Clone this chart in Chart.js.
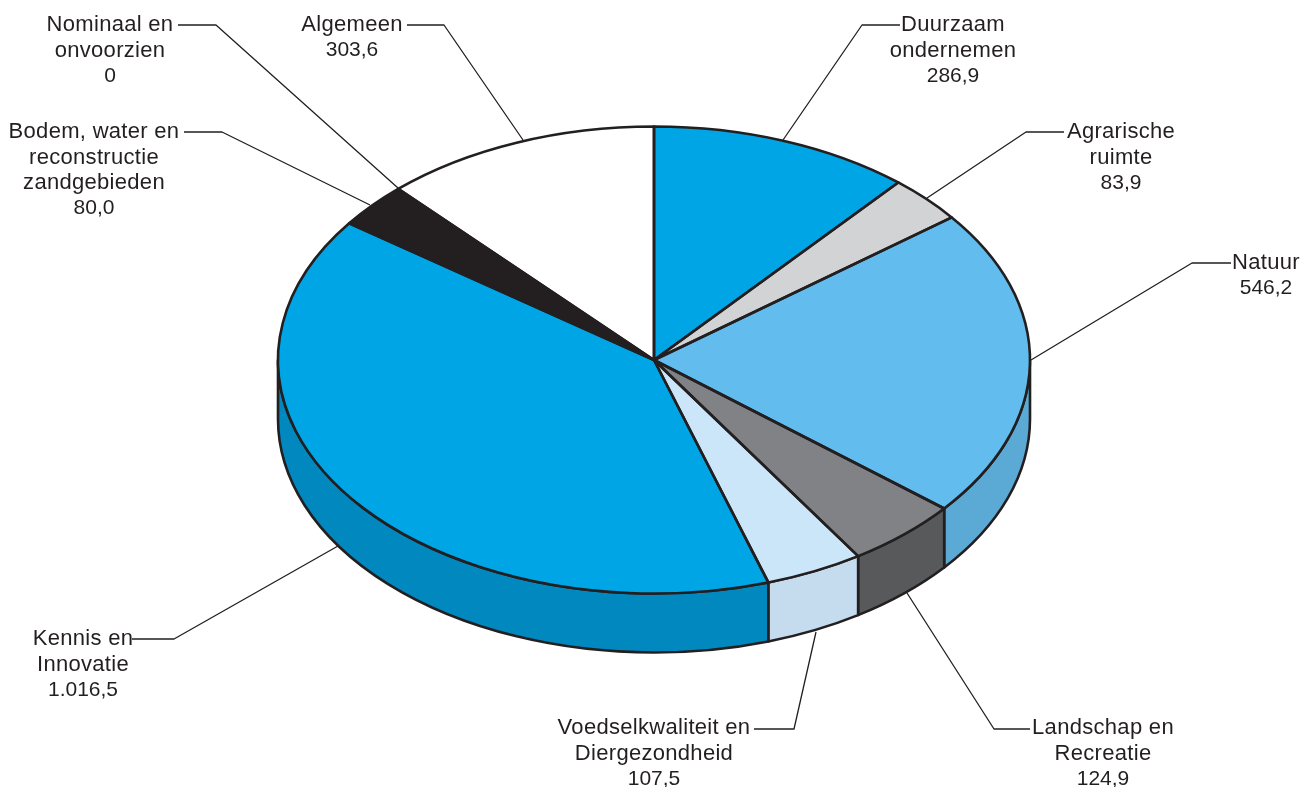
<!DOCTYPE html>
<html>
<head>
<meta charset="utf-8">
<title>Begroting</title>
<style>
  html, body { margin: 0; padding: 0; background: #fff; overflow: hidden; }
  canvas { display: block; }
</style>
<script src="https://cdn.jsdelivr.net/npm/chart.js@4/dist/chart.umd.min.js"></script>
</head>
<body>
<canvas id="pieChart" width="1305" height="787"></canvas>
<script>
var categories = ["Duurzaam ondernemen", "Agrarische ruimte", "Natuur", "Landschap en Recreatie", "Voedselkwaliteit en Diergezondheid", "Kennis en Innovatie", "Bodem, water en reconstructie zandgebieden", "Nominaal en onvoorzien", "Algemeen"];
var values = [286.9, 83.9, 546.2, 124.9, 107.5, 1016.5, 80.0, 0, 303.6];
var valueLabels = ["286,9", "83,9", "546,2", "124,9", "107,5", "1.016,5", "80,0", "0", "303,6"];
var topColors = ["#00a5e6", "#d1d3d4", "#62bdee", "#808285", "#cce6f9", "#00a5e6", "#231f20", "#231f20", "#ffffff"];
var sideColors = ["#0088bf", "#b0b2b4", "#5baad5", "#58595b", "#c5dbee", "#0088bf", "#231f20", "#231f20", "#dddddd"];

// label lines + leader line per category, same order as above
var nameLines = [
	["Duurzaam", "ondernemen"], ["Agrarische", "ruimte"], ["Natuur"], ["Landschap en", "Recreatie"],
	["Voedselkwaliteit en", "Diergezondheid"], ["Kennis en", "Innovatie"],
	["Bodem, water en", "reconstructie", "zandgebieden"], ["Nominaal en", "onvoorzien"], ["Algemeen"]
];
var labelPos = [[953, 25], [1121, 132], [1266, 263], [1103, 728], [654, 728], [83, 639], [94, 132], [110, 25], [352, 25]];
var leaders = [
	[[900, 25], [862, 25], [783, 140]],
	[[1064, 132], [1026, 132], [927, 198]],
	[[1231, 263], [1192, 263], [1031, 360]],
	[[1030, 729], [994, 729], [907, 593]],
	[[754, 729], [794, 729], [816, 632]],
	[[132, 639], [174, 639], [338, 546]],
	[[184, 132], [222, 132], [370, 205]],
	[[178, 25], [216, 25], [398, 188]],
	[[407, 25], [444, 25], [523, 140]]
];

var cx = 654, cy = 360, ry = 233.5, depth = 59;
var inkColor = "#231f20";

var tiltPlugin = {
	id: "tilt",
	beforeDatasetsDraw: function(chart) {
		var ctx = chart.ctx;
		var arcs = chart.getDatasetMeta(0).data;
		ctx.save();
		ctx.lineWidth = 2.6;
		ctx.lineJoin = "round";
		ctx.strokeStyle = inkColor;
		arcs.forEach(function(arc, i) {
			var p = arc.getProps(["startAngle", "endAngle", "outerRadius"], true);
			var s = Math.max(p.startAngle, 0), e = Math.min(p.endAngle, Math.PI);
			if (e <= s) return;
			ctx.beginPath();
			ctx.ellipse(cx, cy, p.outerRadius, ry, 0, s, e);
			ctx.ellipse(cx, cy + depth, p.outerRadius, ry, 0, e, s, true);
			ctx.closePath();
			ctx.fillStyle = sideColors[i];
			ctx.fill();
			ctx.stroke();
		});
		ctx.restore();
		// squash the round pie into the tilted top face
		var first = arcs[0];
		ctx.save();
		ctx.translate(cx, cy);
		ctx.scale(1, ry / first.outerRadius);
		ctx.translate(-first.x, -first.y);
	},
	afterDatasetsDraw: function(chart) {
		var ctx = chart.ctx;
		var arcs = chart.getDatasetMeta(0).data;
		ctx.restore();

		ctx.save();
		ctx.lineWidth = 2.6;
		ctx.lineJoin = "round";
		ctx.strokeStyle = inkColor;
		arcs.forEach(function(arc) {
			var p = arc.getProps(["startAngle", "endAngle", "outerRadius"], true);
			if (p.endAngle - p.startAngle <= 0) return;
			ctx.beginPath();
			ctx.moveTo(cx, cy);
			ctx.ellipse(cx, cy, p.outerRadius, ry, 0, p.startAngle, p.endAngle);
			ctx.closePath();
			ctx.stroke();
		});

		ctx.lineWidth = 1.3;
		leaders.forEach(function(pts) {
			ctx.beginPath();
			pts.forEach(function(pt, j) {
				if (j === 0) ctx.moveTo(pt[0], pt[1]);
				else ctx.lineTo(pt[0], pt[1]);
			});
			ctx.stroke();
		});

		ctx.fillStyle = inkColor;
		ctx.textAlign = "center";
		ctx.textBaseline = "middle";
		categories.forEach(function(name, i) {
			var x = labelPos[i][0], y = labelPos[i][1];
			ctx.font = '22px "Liberation Sans"';
			ctx.letterSpacing = "0.3px";
			nameLines[i].forEach(function(line, j) {
				ctx.fillText(line, x, y + j * 25.5);
			});
			// the numbers are set tighter than the names
			ctx.font = '21px "Liberation Sans"';
			ctx.letterSpacing = "0px";
			ctx.fillText(valueLabels[i], x, y + nameLines[i].length * 25.5);
		});
		ctx.restore();
	}
};

var ctx = document.getElementById("pieChart").getContext("2d");
var myChart = new Chart(ctx, {
	type: 'pie',
	data: {
		labels: categories,
		datasets: [{
			data: values,
			backgroundColor: topColors,
			borderWidth: 0
		}]
	},
	options: {
		responsive: false,
		animation: false,
		radius: 376,
		layout: {
			padding: { left: 278, right: 275, top: 17, bottom: 18 }
		},
		plugins: {
			legend: { display: false },
			tooltip: { enabled: false }
		}
	},
	plugins: [tiltPlugin]
});
</script>
</body>
</html>
